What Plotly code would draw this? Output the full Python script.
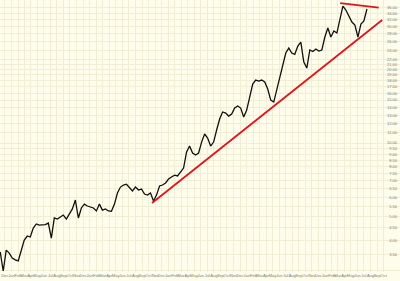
import pandas as pd
import plotly.graph_objects as go

# Price series, one value every two weeks
start_date = "2002-11-24"
prices = [
    3.58, 2.99, 3.64, 3.54, 3.38, 3.32, 3.29, 3.64, 4.00, 4.16,
    4.12, 4.48, 4.66, 4.61, 4.61, 4.63, 4.70, 4.08, 4.93, 4.88,
    4.98, 5.07, 4.88, 5.12, 5.37, 5.84, 4.93, 5.42, 5.62, 5.52,
    5.47, 5.42, 5.27, 5.62, 5.31, 5.37, 5.27, 5.25, 5.62, 6.24,
    6.60, 6.73, 6.78, 6.54, 6.36, 6.60, 6.42, 6.48, 6.18, 6.12,
    6.24, 5.79, 6.12, 6.67, 6.73, 6.86, 7.12, 7.26, 7.39, 7.33,
    7.61, 7.90, 9.19, 9.72, 9.10, 8.93, 9.10, 10.09, 10.89, 10.48,
    9.72, 10.09, 11.31, 12.54, 13.40, 13.27, 12.90, 13.15, 13.91, 14.18,
    13.91, 12.78, 13.65, 15.43, 17.45, 18.12, 17.95, 18.12, 17.78, 16.64,
    15.00, 14.72, 16.49, 18.99, 20.87, 23.38, 24.50, 23.38, 23.10, 24.97,
    25.93, 21.47, 20.29, 24.05, 23.70, 24.27, 23.82, 24.05, 27.18, 29.59,
    27.18, 28.77, 28.23, 31.91, 36.42, 35.07, 33.14, 31.31, 30.44, 27.18,
    30.73, 31.61, 35.40,
]
dates = pd.date_range(start_date, periods=len(prices), freq="14D")

# Red trend lines (endpoints)
support_dates = ["2004-10-31", "2007-10-08"]
support_values = [5.68, 31.9]
resist_dates = ["2007-03-26", "2007-09-22"]
resist_values = [37.4, 35.9]

# Axis ticks
month_ticks = pd.date_range("2002-12-01", "2007-11-01", freq="MS") + pd.Timedelta(days=14)
month_labels = [d.strftime("%b") for d in month_ticks]
y_ticks = [3.0, 3.5, 4.0, 4.5, 5.0, 5.5, 6.0, 6.5, 7.0, 7.5, 8.0, 8.5, 9.0, 9.5, 10.0] + \
          list(range(11, 23)) + [24, 26, 28, 30, 32, 34, 36]
y_labels = ["%.2f" % v for v in y_ticks]

fig = go.Figure()
fig.add_trace(go.Scatter(x=dates, y=prices, mode="lines",
                         line=dict(color="#101010", width=1.3), showlegend=False))
fig.add_trace(go.Scatter(x=support_dates, y=support_values, mode="lines",
                         line=dict(color="#e0141e", width=1.8), showlegend=False))
fig.add_trace(go.Scatter(x=resist_dates, y=resist_values, mode="lines",
                         line=dict(color="#e0141e", width=1.8), showlegend=False))

bg = "#FEFDEB"
grid = "#F1EED6"
fig.update_layout(
    width=400, height=281,
    margin=dict(l=0, r=0, t=0, b=9),
    paper_bgcolor=bg, plot_bgcolor=bg,
    font=dict(family="Liberation Sans", size=4, color="#7a7a7a"),
)
fig.update_xaxes(
    range=["2002-11-23", "2007-12-30"],
    tickmode="array", tickvals=month_ticks, ticktext=month_labels,
    tickangle=0,
    showgrid=True, gridcolor=grid, gridwidth=1,
    ticks="", tickfont=dict(size=4, color="#7a7a7a"),
    showline=False, zeroline=False,
)
fig.update_yaxes(
    type="log", range=[0.4716, 1.586],
    side="right", ticklabelposition="inside",
    tickmode="array", tickvals=y_ticks, ticktext=y_labels,
    showgrid=True, gridcolor=grid, gridwidth=1,
    ticks="", tickfont=dict(size=4, color="#7a7a7a"),
    showline=False, zeroline=False,
)

fig.write_html("out.html")
